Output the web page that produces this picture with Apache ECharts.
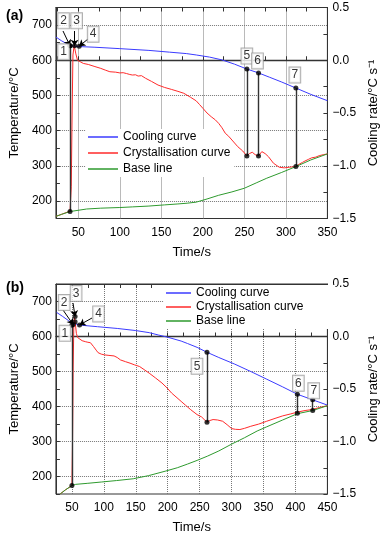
<!DOCTYPE html>
<html>
<head>
<meta charset="utf-8">
<script src="https://cdn.jsdelivr.net/npm/echarts@6/dist/echarts.min.js"></script>
<style>
  html, body { margin: 0; padding: 0; background: #fff; }
  #chart { width: 388px; height: 535px; }
</style>
</head>
<body>
<div id="chart"></div>
<script>
// axis ranges (left: temperature, right: cooling rate)
const T_MIN = 150, T_MAX = 750, R_MIN = -1.5, R_MAX = 0.5;
const xRangeA = [23, 350];
const xRangeB = [25, 450];
const xTicksA = [25, 50, 75, 100, 125, 150, 175, 200, 225, 250, 275, 300, 325, 350];
const xLabelsA = [50, 100, 150, 200, 250, 300, 350];
const xGridA = [50, 100, 150, 200, 250, 300];
const xGridB = [50, 100, 150, 200, 250, 300, 350, 400];
const tempGrid = [200, 300, 400, 500, 700];
const legendNames = ['Cooling curve', 'Crystallisation curve', 'Base line'];

// (a) [time s, temperature °C]
const coolA = [[23,666],[30,655],[36,647],[40,642],[45,640],[50,639],[70,637],[100,633],[135,628],[160,623],[180,619],[192,615],[208,609],[223,601],[238,589],[253,575],[267,564],[280,552],[295,538],[312,521],[330,503],[350,485]];
// (a) [time s, cooling rate °C/s]
const crystA = [[23,-1.48],[30,-1.46],[40,-1.43],[41.5,-1.2],[42.5,-0.5],[43.5,0.05],[45,0.14],[47,0.06],[49,0.0],[51,-0.015],[56,-0.03],[62,-0.04],[70,-0.06],[77,-0.077],[83,-0.095],[88,-0.109],[95,-0.113],[100,-0.12],[104,-0.118],[108,-0.126],[112,-0.135],[115,-0.14],[119,-0.138],[122,-0.15],[126,-0.146],[131,-0.171],[138,-0.2],[146,-0.235],[154,-0.258],[162,-0.276],[170,-0.295],[177,-0.313],[185,-0.35],[192,-0.385],[196,-0.42],[200,-0.455],[205,-0.5],[210,-0.535],[215,-0.565],[219,-0.598],[223,-0.64],[227,-0.692],[231,-0.72],[235,-0.756],[242,-0.819],[248,-0.86],[253,-0.907],[256,-0.885],[259.5,-0.872],[263,-0.895],[267,-0.907],[271,-0.866],[275,-0.885],[279,-0.914],[285,-0.976],[292,-1.014],[298,-1.02],[304,-1.014],[312,-1.008],[316,-0.985],[320,-0.968],[323,-0.955],[327,-0.94],[331,-0.925],[336,-0.918],[340,-0.905],[345,-0.895],[350,-0.888]];
const baseA = [[23,-1.48],[30,-1.46],[40,-1.434],[42,-1.419],[60,-1.41],[77,-1.402],[100,-1.396],[115,-1.39],[135,-1.382],[154,-1.371],[170,-1.362],[181,-1.355],[192,-1.345],[205,-1.315],[219,-1.28],[235,-1.248],[250,-1.213],[265,-1.16],[277,-1.118],[295,-1.063],[312,-1.008],[330,-0.945],[350,-0.888]];
// connectors: [time, temperature top, cooling rate bottom]
const connA = [[40,641,-1.434],[253,575,-0.907],[267,564,-0.907],[312,521,-1.008]];
const dotsA = [[40,641],[45.5,641],[51,640]];
// numbered points: [label, time, temperature]
const pointsA = [['1',40,641],['2',40,641],['3',45.5,641],['4',51,640],['5',253,575],['6',267,564],['7',312,521]];

// (b)
const coolB = [[26,669],[35,658],[45,645],[50,638],[55,636],[66,632],[90,628],[121,623],[150,617],[171,611],[186,604],[200,598],[221,587],[231,580],[246,569],[261.5,555],[280,540],[305,521],[330,500],[355,478],[380,456],[403,435],[427,419],[450,404]];
const crystB = [[31.6,-1.5],[40,-1.46],[50,-1.42],[51,-1.0],[52,-0.3],[53,0.1],[54,0.18],[55.5,0.12],[57,0.03],[59,-0.01],[61.5,-0.027],[66,-0.04],[71,-0.049],[75,-0.055],[79,-0.059],[84,-0.097],[88,-0.13],[91,-0.154],[96,-0.168],[101,-0.175],[108,-0.18],[116,-0.185],[121,-0.2],[126,-0.223],[134,-0.24],[141,-0.254],[148,-0.27],[156,-0.286],[163,-0.315],[171,-0.349],[181,-0.395],[191,-0.443],[199,-0.49],[206,-0.538],[213,-0.575],[221,-0.618],[228,-0.655],[236,-0.697],[246,-0.744],[253,-0.766],[261.5,-0.817],[266,-0.8],[271,-0.791],[278,-0.795],[286,-0.807],[293,-0.84],[300,-0.877],[306,-0.884],[313,-0.886],[320,-0.875],[330,-0.855],[342,-0.835],[355,-0.807],[368,-0.78],[380,-0.756],[392,-0.738],[403,-0.72],[415,-0.705],[427,-0.695],[438,-0.675],[450,-0.659]];
const baseB = [[31.6,-1.5],[40,-1.46],[50,-1.42],[56,-1.408],[75,-1.398],[96,-1.386],[120,-1.372],[146,-1.355],[170,-1.325],[196,-1.283],[215,-1.25],[231,-1.215],[246,-1.18],[262,-1.14],[280,-1.09],[300,-1.025],[320,-0.965],[340,-0.9],[355,-0.86],[380,-0.795],[403,-0.735],[427,-0.705],[450,-0.659]];
const connB = [[50,632,-1.42],[261.5,555,-0.817],[403,435,-0.732],[427,419,-0.705]];
const dotsB = [[52,634],[55,657],[55,642],[62,633]];
const pointsB = [['1',50,632],['2',52,634],['3',55,657],['4',62,633],['5',261.5,555],['6',403,435],['7',427,419]];

// label placement (pixels, relative to the point) and arrow starts (pixels)
const labelOffA = [[-6.5,6],[-6.5,-25],[2,-25],[14,-12],[0,-13],[-1,-12],[-1,-13]];
const labelOffB = [[-7,8],[-9,-22],[1,-23],[19,-11],[-10,14],[1,-11],[1,-9]];
const arrowsA = [[[63,31],1],[[74.5,31],2],[[88,39],3]];
const arrowsB = [[[63,310],1],[[73,303],2],[[92,318],3]];

const FONT = '"Liberation Sans", Arial, sans-serif';
const BLUE = '#3b3bff', RED = '#ff2a2a', GREEN = '#2e9a2e';

function rateToTemp(r) {
  return T_MIN + (r - R_MIN) / (R_MAX - R_MIN) * (T_MAX - T_MIN);
}
function fmtRate(v) {
  const r = Math.round(v * 100) / 100;
  if (Math.abs(r * 2 - Math.round(r * 2)) > 1e-6) return '';
  return r.toFixed(1).replace('-', '\u2212');
}

const xAxes = [], yAxes = [], series = [], grids = [];

function addPanel(g, top, xRange, xTicks, xLabels, xGrid, cool, cryst, base, conn, dots, pts, offs, arrows) {
  grids.push({ left: 53, right: 51.3, top: top, height: 211, show: true, borderColor: '#333', borderWidth: 1 });
  const tickCfg = xTicks ? { customValues: xTicks } : {};
  const labCfg = xLabels ? { customValues: xLabels } : {};
  xAxes.push({
    gridIndex: g, type: 'value', min: xRange[0], max: xRange[1], interval: 25,
    name: 'Time/s', nameLocation: 'middle', nameGap: 27,
    nameTextStyle: { fontSize: 13, color: '#000', fontFamily: FONT },
    axisLine: { lineStyle: { color: '#333' } },
    axisTick: Object.assign({ inside: true, length: 4, lineStyle: { color: '#333' } }, tickCfg),
    axisLabel: Object.assign({ fontSize: 12, color: '#000', margin: 8, fontFamily: FONT, showMinLabel: true,
      formatter: v => (v % 50 === 0 ? String(v) : '') }, labCfg),
    splitLine: { show: false }
  });
  xAxes.push({
    gridIndex: g, type: 'value', position: 'top', min: xRange[0], max: xRange[1], interval: 25,
    axisLine: { lineStyle: { color: '#333' } },
    axisTick: Object.assign({ inside: true, length: 4, lineStyle: { color: '#333' } }, tickCfg),
    axisLabel: { show: false }, splitLine: { show: false }
  });
  yAxes.push({
    gridIndex: g, type: 'value', min: T_MIN, max: T_MAX, interval: 50,
    name: 'Temperature/\u00B0C', nameLocation: 'middle', nameGap: 33, nameRotate: 90,
    nameTextStyle: { fontSize: 13, color: '#000', fontFamily: FONT },
    axisLine: { show: true, lineStyle: { color: '#333' } },
    axisTick: { inside: true, length: 4, lineStyle: { color: '#333' } },
    axisLabel: { fontSize: 12, color: '#000', margin: 4, fontFamily: FONT,
      formatter: v => (v % 100 === 0 && v > T_MIN && v < T_MAX ? String(v) : '') },
    splitLine: { show: false }
  });
  yAxes.push({
    gridIndex: g, type: 'value', position: 'right', min: R_MIN, max: R_MAX, interval: 0.25,
    name: 'Cooling rate/\u00B0C s\u207B\u00B9', nameLocation: 'middle', nameGap: 38, nameRotate: 90,
    nameTextStyle: { fontSize: 13, color: '#000', fontFamily: FONT },
    axisLine: { show: true, lineStyle: { color: '#333' } },
    axisTick: { inside: true, length: 4, lineStyle: { color: '#333' } },
    axisLabel: { fontSize: 12, color: '#000', margin: 5, fontFamily: FONT, formatter: fmtRate },
    splitLine: { show: false }
  });
  const xi = g * 2, yl = g * 2, yr = g * 2 + 1;

  // dotted grid + zero-rate line
  series.push({
    type: 'line', xAxisIndex: xi, yAxisIndex: yl, data: [], z: 0, silent: true,
    markLine: {
      silent: true, symbol: 'none', label: { show: false }, z: 0,
      lineStyle: { color: '#777', type: 'dotted', width: 1 },
      data: xGrid.map(v => ({ xAxis: v, lineStyle: { color: '#777', type: 'dotted', width: 1 } }))
        .concat(tempGrid.map(v => ({ yAxis: v, lineStyle: { color: '#777', type: 'dotted', width: 1 } })))
        .concat([{ yAxis: rateToTemp(0), lineStyle: { color: '#333', type: 'solid', width: 1.3 } }])
    }
  });
  series.push({ name: legendNames[0], type: 'line', xAxisIndex: xi, yAxisIndex: yl, data: cool,
    symbol: 'none', lineStyle: { color: BLUE, width: 1 }, itemStyle: { color: BLUE }, z: 3 });
  series.push({ name: legendNames[1], type: 'line', xAxisIndex: xi, yAxisIndex: yr, data: cryst,
    symbol: 'none', lineStyle: { color: RED, width: 1 }, itemStyle: { color: RED }, z: 3 });
  series.push({ name: legendNames[2], type: 'line', xAxisIndex: xi, yAxisIndex: yr, data: base,
    symbol: 'none', lineStyle: { color: GREEN, width: 1 }, itemStyle: { color: GREEN }, z: 3 });
  // vertical connectors between cooling curve and rate curves
  series.push({
    type: 'lines', coordinateSystem: 'cartesian2d', xAxisIndex: xi, yAxisIndex: yl, z: 4, silent: true,
    lineStyle: { color: '#333', width: 1.4, opacity: 1 },
    data: conn.map(c => ({ coords: [[c[0], c[1]], [c[0], rateToTemp(c[2])]] }))
  });
  const dotData = conn.map(c => [c[0], c[1]])
    .concat(conn.map(c => [c[0], rateToTemp(c[2])]))
    .concat(dots);
  series.push({
    type: 'scatter', xAxisIndex: xi, yAxisIndex: yl, data: dotData, z: 5, silent: true,
    symbol: 'circle', symbolSize: 5, itemStyle: { color: '#000' }
  });
  // numbered labels + arrows
  series.push({
    type: 'scatter', xAxisIndex: xi, yAxisIndex: yl, z: 6, silent: true, symbolSize: 0,
    data: pts.map((p, i) => ({
      value: [p[1], p[2]],
      label: { show: true, formatter: p[0], offset: offs[i] }
    })),
    label: {
      position: 'inside', color: '#000', fontSize: 12, fontFamily: FONT,
      backgroundColor: '#fff', borderColor: '#999', borderWidth: 1, padding: [2, 2, 1, 2]
    },
    markLine: {
      silent: true, symbol: ['none', 'arrow'], symbolSize: 6, label: { show: false },
      lineStyle: { color: '#000', type: 'solid', width: 1 },
      data: arrows.map(a => [{ x: a[0][0], y: a[0][1] }, { coord: [pts[a[1]][1], pts[a[1]][2]] }])
    }
  });
}

addPanel(0, 7.5, xRangeA, xTicksA, xLabelsA, xGridA, coolA, crystA, baseA, connA, dotsA, pointsA, labelOffA, arrowsA);
addPanel(1, 284, xRangeB, null, null, xGridB, coolB, crystB, baseB, connB, dotsB, pointsB, labelOffB, arrowsB);

const chart = echarts.init(document.getElementById('chart'), null, { renderer: 'canvas' });
chart.setOption({
  animation: false,
  textStyle: { fontFamily: FONT },
  title: [
    { text: '(a)', left: 1, top: 4, textStyle: { fontSize: 14, fontWeight: 'bold', color: '#000', fontFamily: FONT } },
    { text: '(b)', left: 1, top: 276, textStyle: { fontSize: 14, fontWeight: 'bold', color: '#000', fontFamily: FONT } }
  ],
  legend: [
    { data: legendNames, orient: 'vertical', left: 86, top: 129, icon: 'rect', itemWidth: 30, itemHeight: 1.5, itemGap: 4,
      backgroundColor: '#fff', padding: [2, 4, 2, 2], z: 2,
      textStyle: { fontSize: 12, color: '#000', fontFamily: FONT } },
    { data: legendNames, orient: 'vertical', left: 164, top: 285, icon: 'rect', itemWidth: 25, itemHeight: 1.5, itemGap: 2,
      backgroundColor: '#fff', padding: [2, 32, 2, 2], z: 2,
      textStyle: { fontSize: 12, color: '#000', fontFamily: FONT } }
  ],
  grid: grids,
  xAxis: xAxes,
  yAxis: yAxes,
  series: series
});
</script>
</body>
</html>
